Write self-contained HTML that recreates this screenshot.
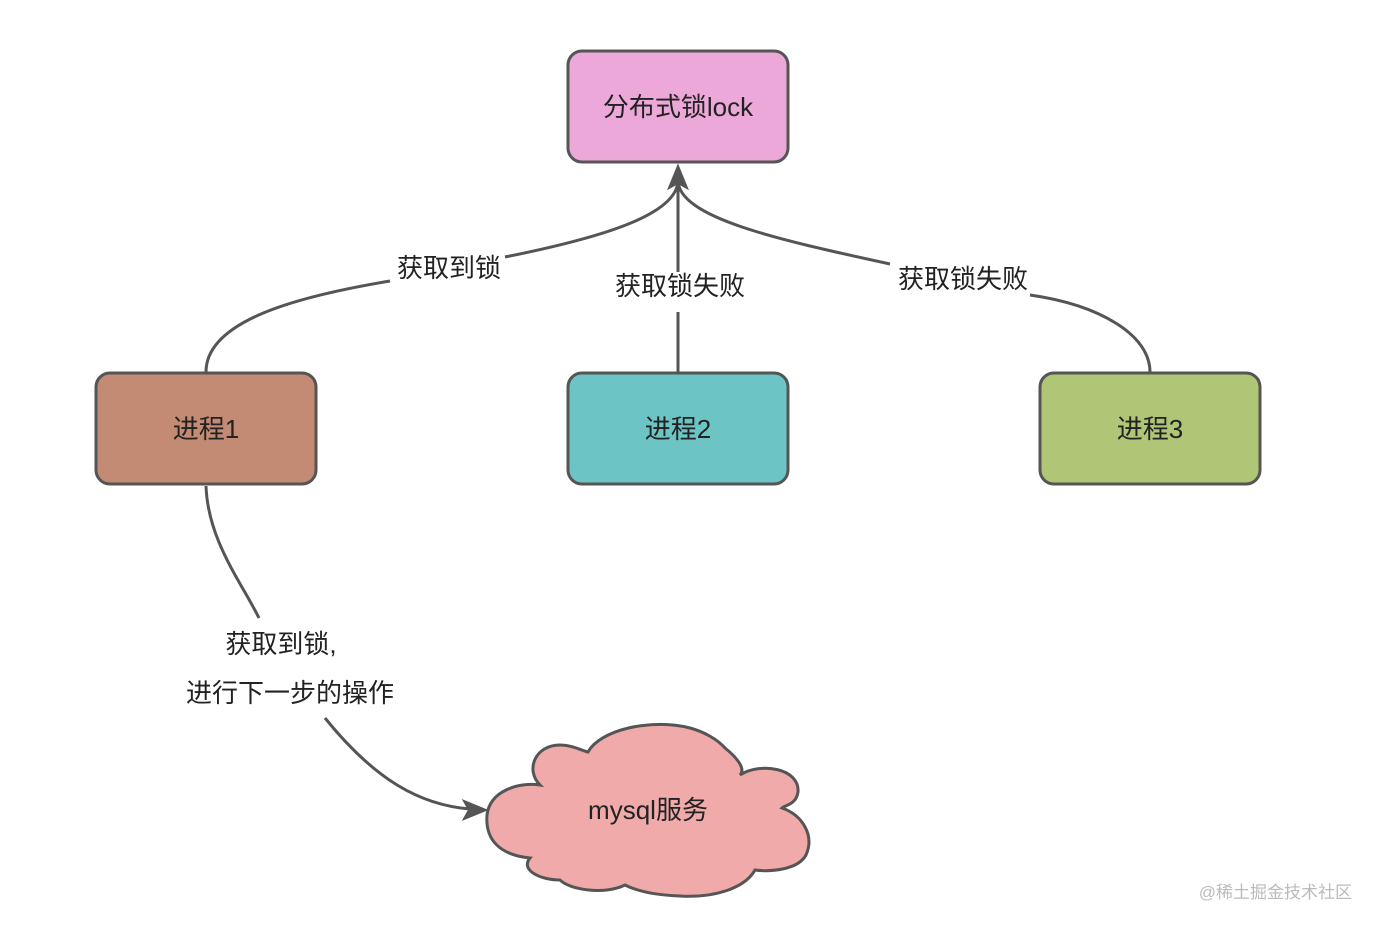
<!DOCTYPE html>
<html><head><meta charset="utf-8"><style>
html,body{margin:0;padding:0;background:#fff;}
svg{display:block;}
text{font-family:"Liberation Sans","Noto Sans CJK SC",sans-serif;fill:#222;}
</style></head><body>
<svg width="1378" height="928" viewBox="0 0 1378 928" xmlns="http://www.w3.org/2000/svg">
<g fill="none" stroke="#555" stroke-width="3">
<path d="M206,372 C206,320 300,296 390,281"/>
<path d="M505,257 C600,238 678,215 678,180"/>
<path d="M1150,372 C1150,335 1100,305 1030,295"/>
<path d="M890,264 C780,240 678,218 678,180"/>
<path d="M678,372 L678,312"/>
<path d="M678,272 L678,180"/>
<path d="M206,486 C208,540 240,580 259,618"/>
<path d="M325,718 C375,780 420,805 470,809"/>
</g>
<path d="M678,166 L669,188 L678,183 L687,188 Z" fill="#555" stroke="#555" stroke-width="2"/>
<path d="M486,810 L464,801 L469,810 L464,819 Z" fill="#555" stroke="#555" stroke-width="2"/>

<rect x="568" y="51" width="220" height="111" rx="14" fill="#EBA8D8" stroke="#555" stroke-width="3"/>
<text x="678" y="116" font-size="26" text-anchor="middle">分布式锁lock</text>

<rect x="96" y="373" width="220" height="111" rx="14" fill="#C48B74" stroke="#555" stroke-width="3"/>
<text x="206" y="438" font-size="26" text-anchor="middle">进程1</text>
<rect x="568" y="373" width="220" height="111" rx="14" fill="#6CC4C4" stroke="#555" stroke-width="3"/>
<text x="678" y="438" font-size="26" text-anchor="middle">进程2</text>
<rect x="1040" y="373" width="220" height="111" rx="14" fill="#AFC677" stroke="#555" stroke-width="3"/>
<text x="1150" y="438" font-size="26" text-anchor="middle">进程3</text>

<text x="449" y="277" font-size="26" text-anchor="middle">获取到锁</text>
<text x="680" y="295" font-size="26" text-anchor="middle">获取锁失败</text>
<text x="963" y="288" font-size="26" text-anchor="middle">获取锁失败</text>
<text x="281" y="653" font-size="26" text-anchor="middle">获取到锁,</text>
<text x="290" y="702" font-size="26" text-anchor="middle">进行下一步的操作</text>

<path d="M540,785 C525,770 535,745 560,745 C572,745 580,750 588,752 C600,730 650,718 690,728 C705,732 718,740 725,748 C740,760 745,770 740,775 C760,762 800,768 798,792 C796,805 785,805 782,808 C802,815 815,835 806,855 C798,870 770,872 755,870 C745,888 715,898 680,896 C650,895 635,890 625,885 C605,895 570,890 560,880 C540,880 520,870 530,858 C500,855 485,840 487,815 C490,790 520,782 540,785 Z" fill="#F0AAAA" stroke="#555" stroke-width="3"/>
<text x="648" y="819" font-size="26" text-anchor="middle">mysql服务</text>

<text x="1352" y="898" font-size="17" text-anchor="end" style="fill:#bbb">@稀土掘金技术社区</text>
</svg>
</body></html>
